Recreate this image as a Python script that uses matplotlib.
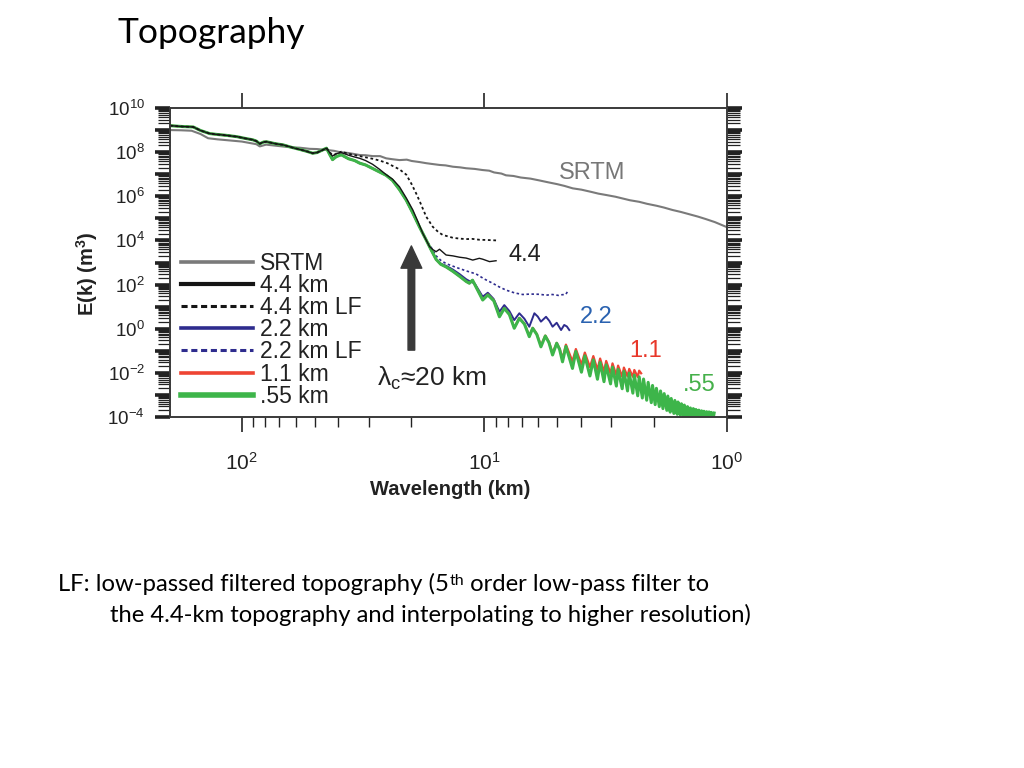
import numpy as np
import matplotlib
matplotlib.use("Agg")
import matplotlib.pyplot as plt
from matplotlib.lines import Line2D
from matplotlib.text import Annotation
from matplotlib.ticker import LogLocator, FuncFormatter, NullFormatter

plt.rcParams['font.family'] = ['Liberation Sans', 'DejaVu Sans']
plt.rcParams['mathtext.fontset'] = 'custom'
plt.rcParams['mathtext.rm'] = 'Liberation Sans'
plt.rcParams['mathtext.it'] = 'Liberation Sans:italic'
plt.rcParams['mathtext.bf'] = 'Liberation Sans:bold'

SLIDE_FONT = ['Lato', 'DejaVu Sans']

# values: log10(wavelength / km) and log10(E(k) / m^3)
srtm_lw = [2.296, 2.250, 2.207, 2.170, 2.139, 2.100, 2.050, 2.000, 1.960, 1.940,
           1.926, 1.900, 1.850, 1.800, 1.760, 1.720, 1.690, 1.651, 1.620, 1.600,
           1.560, 1.514, 1.490, 1.460, 1.430, 1.405, 1.380, 1.350, 1.320, 1.300,
           1.267, 1.240, 1.220, 1.185, 1.160, 1.130, 1.100, 1.075, 1.040, 1.008,
           0.980, 0.960, 0.930, 0.911, 0.880, 0.850, 0.810, 0.774, 0.740, 0.700,
           0.670, 0.636, 0.600, 0.560, 0.530, 0.499, 0.460, 0.430, 0.400, 0.362,
           0.330, 0.290, 0.260, 0.225, 0.190, 0.150, 0.120, 0.088, 0.050, 0.000]
srtm_le = [9.00, 8.99, 8.97, 8.82, 8.63, 8.58, 8.53, 8.48, 8.40, 8.36,
           8.26, 8.34, 8.28, 8.22, 8.20, 8.15, 8.14, 8.10, 8.06, 8.01,
           7.96, 7.87, 7.86, 7.82, 7.82, 7.72, 7.68, 7.64, 7.66, 7.60,
           7.55, 7.50, 7.47, 7.42, 7.40, 7.34, 7.31, 7.27, 7.24, 7.19,
           7.16, 7.08, 7.03, 6.95, 6.92, 6.85, 6.80, 6.72, 6.64, 6.55,
           6.47, 6.36, 6.30, 6.20, 6.12, 6.06, 5.98, 5.90, 5.82, 5.75,
           5.66, 5.57, 5.49, 5.38, 5.29, 5.17, 5.08, 4.97, 4.83, 4.60]

# large-scale part shared by the model runs
common_lw = [2.296, 2.245, 2.200, 2.170, 2.132, 2.100, 2.063, 2.020, 1.985, 1.955,
             1.940, 1.926, 1.910, 1.898, 1.860, 1.830, 1.789, 1.760, 1.730, 1.708,
             1.690, 1.670, 1.651, 1.638, 1.626, 1.610, 1.590, 1.560, 1.535, 1.514,
             1.490, 1.461, 1.432, 1.405, 1.379, 1.350, 1.322, 1.296, 1.268, 1.240,
             1.220, 1.199]
common_le = [9.20, 9.16, 9.14, 8.98, 8.84, 8.80, 8.76, 8.70, 8.62, 8.56,
             8.50, 8.38, 8.46, 8.47, 8.38, 8.33, 8.20, 8.12, 8.03, 7.95,
             7.98, 8.08, 8.18, 7.90, 7.66, 7.80, 7.88, 7.70, 7.62, 7.50,
             7.42, 7.26, 7.10, 6.95, 6.72, 6.30, 5.82, 5.26, 4.62, 4.02,
             3.58, 3.14]

# .55 km tail
g055_lw = [1.180, 1.158, 1.130, 1.103, 1.075, 1.062, 1.049,
           1.007, 0.986, 0.961, 0.938, 0.918, 0.897, 0.877, 0.856, 0.835,
           0.815, 0.801, 0.784, 0.767, 0.749, 0.734, 0.719, 0.702, 0.690,
           0.678, 0.664,
           0.637, 0.623, 0.600, 0.586, 0.565, 0.551, 0.534, 0.523, 0.507, 0.498,
           0.480, 0.472, 0.456, 0.449, 0.432, 0.425, 0.410, 0.403, 0.388, 0.382,
           0.368, 0.362, 0.349, 0.344, 0.331, 0.325, 0.312, 0.307, 0.296, 0.291,
           0.279, 0.274, 0.264, 0.259, 0.248, 0.244, 0.234, 0.230, 0.219, 0.215,
           0.205, 0.202, 0.192, 0.188, 0.179, 0.176, 0.166, 0.163, 0.154, 0.151,
           0.142, 0.139, 0.131, 0.128, 0.119, 0.116, 0.108, 0.105, 0.098, 0.095,
           0.087, 0.084, 0.077, 0.074, 0.067, 0.065, 0.057, 0.053]
g055_le = [2.92, 2.80, 2.60, 2.38, 2.14, 2.06, 2.20,
           1.30, 1.53, 1.26, 0.54, 0.92, 0.64, 0.02, 0.47, 0.21,
           -0.36, 0.02, -0.26, -0.82, -0.33, -0.63, -1.19, -0.66, -0.94,
           -1.50, -0.80,
           -1.80, -1.03, -1.97, -1.23, -2.14, -1.41, -2.29, -1.53, -2.40, -1.64,
           -2.50, -1.74, -2.60, -1.84, -2.72, -1.93, -2.82, -2.01, -2.92, -2.10,
           -3.04, -2.18, -3.14, -2.28, -3.24, -2.43, -3.35, -2.57, -3.44, -2.70,
           -3.53, -2.82, -3.62, -2.94, -3.70, -3.05, -3.78, -3.16, -3.84, -3.25,
           -3.88, -3.32, -3.92, -3.40, -3.96, -3.46, -3.99, -3.53, -4.02, -3.59,
           -4.03, -3.62, -4.04, -3.66, -4.05, -3.69, -4.05, -3.72, -4.06, -3.74,
           -4.06, -3.76, -4.06, -3.77, -4.06, -3.79, -4.06, -3.82]

# 1.1 km tail
r11_lw = [1.180, 1.158, 1.130, 1.103, 1.075, 1.062, 1.049,
          1.007, 0.986, 0.961, 0.938, 0.918, 0.897, 0.877, 0.856, 0.835,
          0.815, 0.801, 0.784, 0.767, 0.749, 0.734, 0.719, 0.702, 0.690,
          0.678, 0.664,
          0.637, 0.623, 0.600, 0.586, 0.565, 0.551, 0.534, 0.523, 0.507, 0.498,
          0.480, 0.472, 0.456, 0.449, 0.432, 0.425, 0.410, 0.403, 0.388, 0.382,
          0.368, 0.362, 0.354]
r11_le = [2.92, 2.80, 2.60, 2.38, 2.14, 2.06, 2.20,
          1.32, 1.55, 1.28, 0.56, 0.94, 0.66, 0.05, 0.49, 0.23,
          -0.32, 0.04, -0.24, -0.76, -0.31, -0.60, -1.10, -0.64, -0.90,
          -1.35, -0.72,
          -1.48, -0.92, -1.62, -1.08, -1.74, -1.24, -1.86, -1.35, -1.95, -1.46,
          -2.04, -1.57, -2.11, -1.67, -2.17, -1.76, -2.16, -1.82, -2.18, -1.87,
          -2.19, -1.90, -2.02]

# 2.2 km tail
b22_lw = [1.180, 1.158, 1.130, 1.103, 1.075, 1.062, 1.040,
          1.007, 0.986, 0.962, 0.938, 0.918, 0.897, 0.877, 0.856, 0.835,
          0.815, 0.794, 0.780, 0.767, 0.746, 0.732, 0.719, 0.702,
          0.684, 0.671, 0.660, 0.650]
b22_le = [2.95, 2.85, 2.68, 2.48, 2.24, 2.16, 2.05,
          1.45, 1.63, 1.35, 0.77, 1.07, 0.80, 0.39, 0.70, 0.45,
          0.09, 0.70, 0.55, 0.32, 0.54, 0.35, 0.09, 0.27,
          -0.06, 0.17, 0.10, -0.06]

# 2.2 km LF tail (joins the shared part at 1.24)
b22lf_lw = [1.220, 1.199, 1.180, 1.158, 1.117, 1.075, 1.034, 1.000, 0.966, 0.940,
            0.911, 0.875, 0.842, 0.810, 0.774, 0.745, 0.720, 0.695, 0.680, 0.665,
            0.655]
b22lf_le = [3.70, 3.30, 3.10, 2.95, 2.78, 2.62, 2.48, 2.25, 2.06, 1.90,
            1.75, 1.62, 1.55, 1.57, 1.56, 1.52, 1.55, 1.51, 1.54, 1.55,
            1.72]

# 4.4 km tail (joins the shared part at 1.651)
k44_lw = [1.638, 1.626, 1.610, 1.590, 1.560, 1.535, 1.514, 1.490, 1.461, 1.432,
          1.405, 1.379, 1.350, 1.322, 1.295, 1.274, 1.254, 1.240, 1.226, 1.212,
          1.199, 1.185, 1.158, 1.130, 1.103, 1.075, 1.048, 1.021, 1.007, 0.979,
          0.952]
k44_le = [7.98, 7.82, 7.93, 7.98, 7.86, 7.78, 7.72, 7.62, 7.45, 7.22,
          6.98, 6.78, 6.43, 5.92, 5.38, 4.85, 4.32, 4.02, 3.72, 3.58,
          3.49, 3.60, 3.34, 3.30, 3.24, 3.20, 3.11, 3.19, 3.15, 3.04,
          3.08]

# 4.4 km LF tail (joins the shared part at 1.651)
k44lf_lw = [1.626, 1.590, 1.550, 1.514, 1.461, 1.432, 1.400, 1.379, 1.350, 1.322,
            1.300, 1.280, 1.267, 1.240, 1.213, 1.190, 1.172, 1.130, 1.100, 1.075,
            1.050, 1.020, 0.990, 0.950]
k44lf_le = [7.85, 8.02, 7.90, 7.82, 7.70, 7.62, 7.50, 7.38, 7.22, 6.98,
            6.55, 6.10, 5.78, 5.08, 4.62, 4.38, 4.25, 4.12, 4.08, 4.06,
            4.07, 4.03, 4.02, 4.00]

legend_labels = ['SRTM', '4.4 km', '4.4 km LF', '2.2 km', '2.2 km LF', '1.1 km', '.55 km']

C_SRTM = '#7a7a7a'
C_BLACK = '#151515'
C_BLUE = '#2e2c8e'
C_RED = '#ee4433'
C_GREEN = '#3db54a'


def pw(v):
    return 10.0 ** np.asarray(v)


fig = plt.figure(figsize=(10.24, 7.68), dpi=100)
ax = fig.add_axes([170 / 1024, 1 - 417 / 768, 557 / 1024, 309 / 768])

ax.plot(pw(srtm_lw), pw(srtm_le), color=C_SRTM, lw=1.5)
ax.plot(pw(common_lw[:40] + b22lf_lw), pw(common_le[:40] + b22lf_le),
        color=C_BLUE, lw=1.2, ls=(0, (1.5, 1.5)))
ax.plot(pw(common_lw + b22_lw), pw(common_le + b22_le), color=C_BLUE, lw=1.4)
ax.plot(pw(common_lw + r11_lw), pw(common_le + r11_le), color=C_RED, lw=1.6)
ax.plot(pw(common_lw + g055_lw), pw(common_le + g055_le), color=C_GREEN, lw=2.2)
ax.plot(pw(common_lw[:23] + k44lf_lw), pw(common_le[:23] + k44lf_le),
        color=C_BLACK, lw=1.3, ls=(0, (1.5, 1.5)))
ax.plot(pw(common_lw[:23] + k44_lw), pw(common_le[:23] + k44_le), color=C_BLACK, lw=1.0)

ax.set_xscale('log')
ax.set_yscale('log')
ax.set_xlim(10 ** 2.296, 1.0)
ax.set_ylim(1e-4, 1e10)

ax.xaxis.set_major_locator(LogLocator(base=10, numticks=10))
ax.xaxis.set_minor_locator(LogLocator(base=10, subs=np.arange(2, 10), numticks=50))
ax.xaxis.set_major_formatter(FuncFormatter(lambda v, p: f'$10^{{{int(round(np.log10(v)))}}}$'))
ax.xaxis.set_minor_formatter(NullFormatter())
ax.yaxis.set_major_locator(LogLocator(base=10, numticks=30))
ax.yaxis.set_minor_locator(LogLocator(base=10, subs=np.arange(2, 10), numticks=100))


def ylab(v, p):
    e = int(round(np.log10(v)))
    return f'$10^{{{e}}}$' if e % 2 == 0 else ''


ax.yaxis.set_major_formatter(FuncFormatter(ylab))
ax.yaxis.set_minor_formatter(NullFormatter())

for s in ax.spines.values():
    s.set_color('#3a3a3a')
    s.set_linewidth(1.4)

ax.tick_params(which='both', direction='out', top=True, right=True, colors='#222222')
ax.tick_params(axis='y', which='major', length=11, width=2.6, labelsize=13.5, pad=7)
ax.tick_params(axis='y', which='minor', length=9, width=0.9)
ax.tick_params(axis='x', which='major', length=11, width=1.2, labelsize=15, pad=14)
ax.tick_params(axis='x', which='minor', length=7, width=1.0, top=False)

ax.set_xlabel('Wavelength (km)', fontsize=14.5, fontweight='bold', color='#222222')
ax.set_ylabel('E(k) (m$^\\mathbf{3}$)', fontsize=14.5, fontweight='bold', color='#222222')
ax.xaxis.set_label_coords(0.503, -0.204)
ax.yaxis.set_label_coords(-0.126, 0.465)

handles = [Line2D([], [], color=C_SRTM, lw=2.6),
           Line2D([], [], color=C_BLACK, lw=3.0),
           Line2D([], [], color=C_BLACK, lw=2.2, ls=(0, (2, 1.2))),
           Line2D([], [], color=C_BLUE, lw=2.6),
           Line2D([], [], color=C_BLUE, lw=2.2, ls=(0, (2, 1.2))),
           Line2D([], [], color=C_RED, lw=2.6),
           Line2D([], [], color=C_GREEN, lw=4.0)]
ax.legend(handles, legend_labels, loc='upper left', bbox_to_anchor=(0.02, 0.535),
          frameon=False, fontsize=16.5, handlelength=3.14, handletextpad=0.3,
          labelspacing=-0.035, borderpad=0, borderaxespad=0, labelcolor='#222222')

ax.text(3.6, 10 ** 7.05, 'SRTM', color='#777777', fontsize=17, ha='center', va='center')
ax.text(6.84, 10 ** 3.34, '4.4', color='#222222', fontsize=17, ha='center', va='center')
ax.text(3.46, 10 ** 0.53, '2.2', color='#2a62b0', fontsize=17, ha='center', va='center')
ax.text(2.17, 10 ** -1.01, '1.1', color='#e8372a', fontsize=17, ha='center', va='center')
ax.text(1.30, 10 ** -2.55, '.55', color='#45b04a', fontsize=17, ha='center', va='center')

ax.annotate('', xy=(20, 10 ** 3.75), xytext=(20, 10 ** -0.97),
            arrowprops=dict(width=4.8, headwidth=15, headlength=16, shrink=0,
                            color='#3a3a3a'))
ax.text(16.5, 10 ** -2.23, 'λ$_\\mathrm{c}$≈20 km', color='#222222', fontsize=19,
        ha='center', va='center')

# slide text
fig.text(118 / 1024, 1 - 43 / 768, 'Topography', fontsize=25.5, family=SLIDE_FONT,
         va='baseline', ha='left', color='black')

t1 = fig.text(58 / 1024, 1 - 591 / 768, 'LF: low-passed filtered topography (5',
              fontsize=17.2, family=SLIDE_FONT, va='baseline', ha='left')
t2 = Annotation('th', xy=(1, 1), xycoords=t1, xytext=(0.5, -1), textcoords='offset points',
                fontsize=11.5, family=SLIDE_FONT, va='top', ha='left')
fig.add_artist(t2)
t3 = Annotation(' order low-pass filter to', xy=(1, 0), xycoords=(t2, t1),
                fontsize=17.2, family=SLIDE_FONT, va='bottom', ha='left')
fig.add_artist(t3)
fig.text(110 / 1024, 1 - 622 / 768,
         'the 4.4-km topography and interpolating to higher resolution)',
         fontsize=17.1, family=SLIDE_FONT, va='baseline', ha='left')

fig.savefig('out.png', dpi=100)
